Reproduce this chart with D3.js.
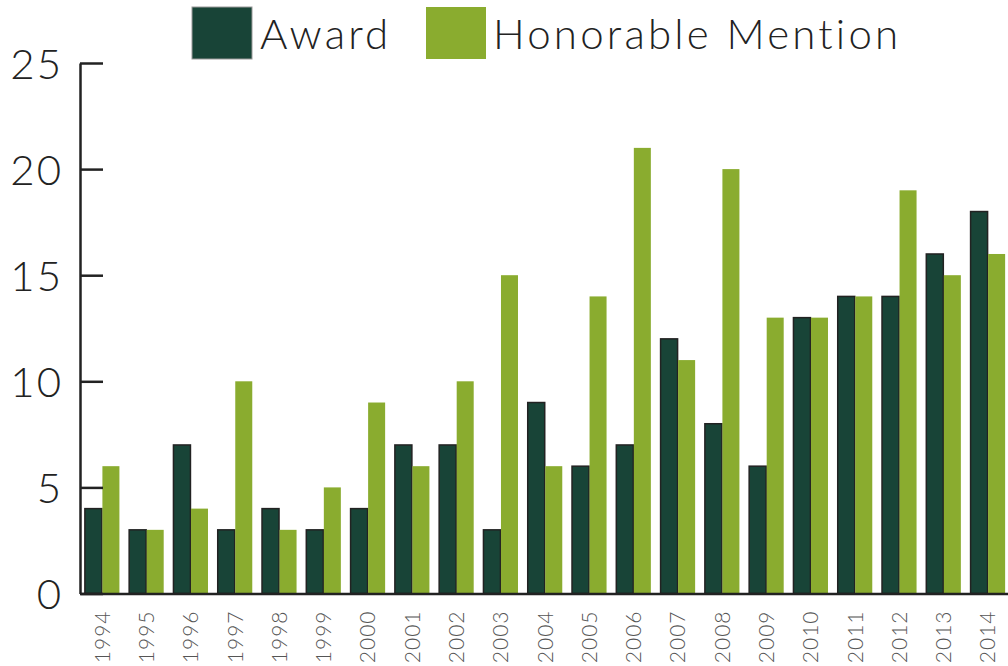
<!DOCTYPE html>
<html>
<head>
<meta charset="utf-8">
<script src="https://d3js.org/d3.v7.min.js"></script>
<style>
  body { margin: 0; background: #fff; }
  #chart { width: 1008px; height: 666px; }
  text { font-family: Lato, "Open Sans", sans-serif; font-weight: 300; }
</style>
</head>
<body>
<div id="chart"></div>
<script>
const years = ["1994","1995","1996","1997","1998","1999","2000","2001","2002","2003","2004",
               "2005","2006","2007","2008","2009","2010","2011","2012","2013","2014"];
const award = [4, 3, 7, 3, 4, 3, 4, 7, 7, 3, 9, 6, 7, 12, 8, 6, 13, 14, 14, 16, 18];
const honorable = [6, 3, 4, 10, 3, 5, 9, 6, 10, 15, 6, 14, 21, 11, 20, 13, 13, 14, 19, 15, 16];
const seriesNames = ["Award", "Honorable Mention"];
const yTicks = [0, 5, 10, 15, 20, 25];

const colors = {"Award": "#184437", "Honorable Mention": "#8aac2f"};

const width = 1008;
const height = 666;
const margin = {top: 63, left: 80, right: -2, bottom: 72};

const svg = d3.select("#chart")
    .append("svg")
    .attr("width", width)
    .attr("height", height);

/* SCALES */
const x0 = d3.scaleBand()
    .domain(years)
    .range([margin.left, width - margin.right])
    .paddingInner(0.22)
    .paddingOuter(0.11);

const x1 = d3.scaleBand()
    .domain(seriesNames)
    .range([0, x0.bandwidth()])
    .paddingInner(0.03);

const yScale = d3.scaleLinear()
    .domain([0, 25])
    .range([height - margin.bottom - 0.5, margin.top]);

const rows = years.map((yr, i) => ({year: yr, values: [
    {key: "Award", value: award[i]},
    {key: "Honorable Mention", value: honorable[i]}
]}));

/* BARS */
const groups = svg.selectAll("g.group")
    .data(rows)
    .enter()
    .append("g")
    .attr("class", "group")
    .attr("transform", d => `translate(${x0(d.year)},0)`);

groups.selectAll("rect")
    .data(d => d.values)
    .enter()
    .append("rect")
    .attr("x", d => x1(d.key))
    .attr("y", d => yScale(d.value))
    .attr("width", x1.bandwidth())
    .attr("height", d => yScale(0) - yScale(d.value))
    .attr("fill", d => colors[d.key])
    .attr("stroke", d => d.key === "Award" ? "#222" : "none")
    .attr("stroke-width", 1.5);

/* Y AXIS */
const yAxis = svg.append("g")
    .attr("transform", `translate(${margin.left},0)`)
    .call(d3.axisRight(yScale).tickValues(yTicks).tickSize(23).tickSizeOuter(0).tickFormat(d3.format("d")));

yAxis.select(".domain").attr("stroke", "#222").attr("stroke-width", 2.5);
yAxis.selectAll(".tick line").attr("stroke", "#222").attr("stroke-width", 2.5);
yAxis.selectAll(".tick text")
    .attr("x", -17)
    .attr("dy", "0.36em")
    .attr("text-anchor", "end")
    .attr("fill", "#222")
    .style("font-size", "42px")
    .style("letter-spacing", "2px");

/* X AXIS */
const xAxis = svg.append("g")
    .attr("transform", `translate(0,${yScale(0)})`)
    .call(d3.axisBottom(x0).tickSize(0).tickSizeOuter(0));

xAxis.select(".domain").attr("stroke", "#222").attr("stroke-width", 2.5);
xAxis.selectAll(".tick text")
    .attr("transform", "rotate(-90)")
    .attr("x", -17)
    .attr("y", 0)
    .attr("dy", "0.36em")
    .attr("text-anchor", "end")
    .attr("fill", "#555")
    .style("font-size", "21px")
    .style("letter-spacing", "1px");

/* LEGEND */
const legendPos = [{x: 192, tx: 260}, {x: 426, tx: 493}];
const legend = svg.selectAll("g.legend")
    .data(seriesNames)
    .enter()
    .append("g")
    .attr("class", "legend");

legend.append("rect")
    .attr("x", (d, i) => legendPos[i].x)
    .attr("y", 7)
    .attr("width", 60)
    .attr("height", 52)
    .attr("fill", d => colors[d])
    .attr("stroke", (d, i) => i === 0 ? "#999" : "none")
    .attr("stroke-width", 1);

legend.append("text")
    .attr("x", (d, i) => legendPos[i].tx)
    .attr("y", 49)
    .attr("fill", "#222")
    .style("font-size", "42px")
    .style("letter-spacing", "3.2px")
    .text(d => d);
</script>
</body>
</html>
